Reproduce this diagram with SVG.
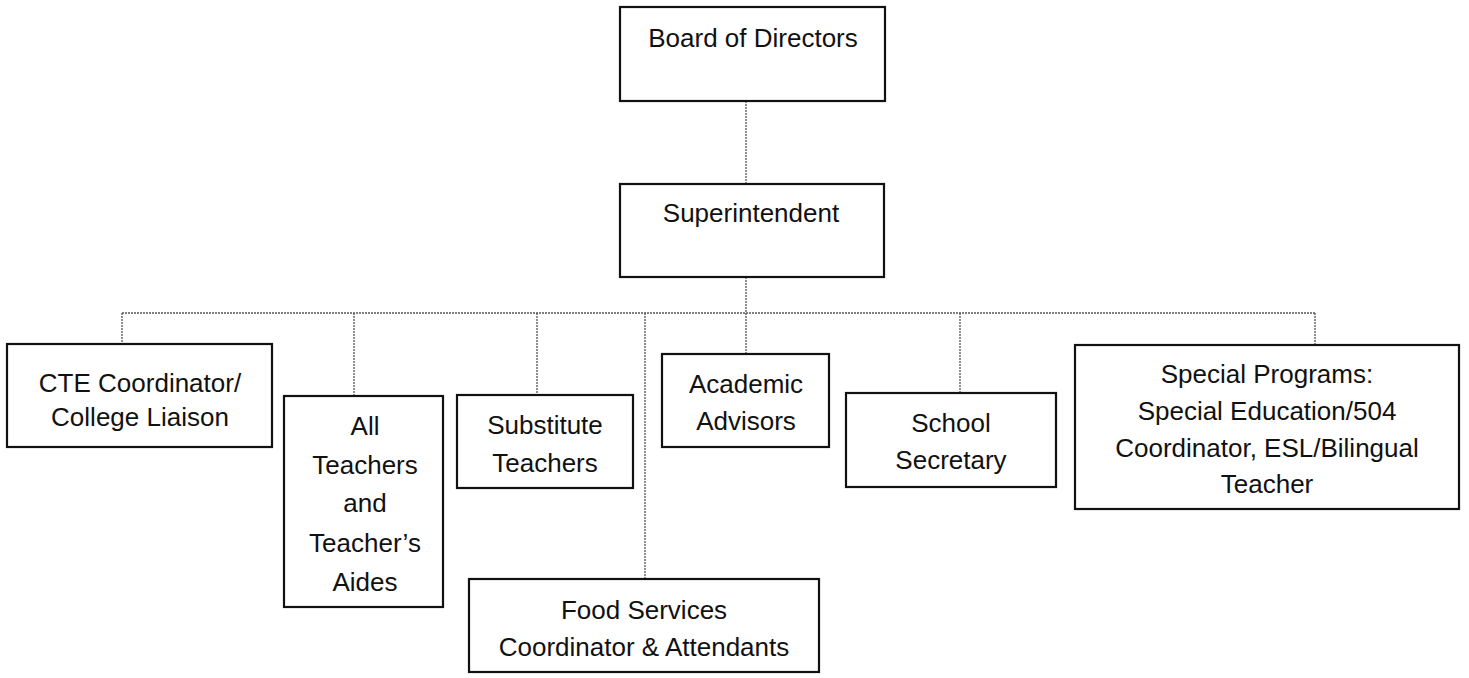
<svg xmlns="http://www.w3.org/2000/svg" width="1469" height="678" viewBox="0 0 1469 678">
<style>
.box{fill:#fff;stroke:#111;stroke-width:2.2}
.t{font-family:"Liberation Sans",Arial,sans-serif;font-size:26px;fill:#111;text-anchor:middle}
.c{fill:none;stroke:#555;stroke-width:1.3;stroke-dasharray:2 1}
</style>
<rect width="1469" height="678" fill="#fff"/>
<g id="connectors">
<line class="c" x1="746" y1="101" x2="746" y2="184"/>
<line class="c" x1="746" y1="277" x2="746" y2="313"/>
<line class="c" x1="122" y1="313" x2="1316" y2="313"/>
<line class="c" x1="122" y1="313" x2="122" y2="344"/>
<line class="c" x1="354" y1="313" x2="354" y2="396"/>
<line class="c" x1="537" y1="313" x2="537" y2="395"/>
<line class="c" x1="645" y1="313" x2="645" y2="579"/>
<line class="c" x1="746" y1="313" x2="746" y2="354"/>
<line class="c" x1="960" y1="313" x2="960" y2="393"/>
<line class="c" x1="1315" y1="313" x2="1315" y2="345"/>
</g>
<g id="board">
<rect class="box" x="620" y="7" width="265" height="94"/>
<text class="t" x="753" y="47">Board of Directors</text>
</g>
<g id="superintendent">
<rect class="box" x="620" y="184" width="264" height="93"/>
<text class="t" x="751" y="222">Superintendent</text>
</g>
<g id="cte">
<rect class="box" x="7" y="344" width="265" height="103"/>
<text class="t" x="140" y="392">CTE Coordinator/</text>
<text class="t" x="140" y="426">College Liaison</text>
</g>
<g id="teachers">
<rect class="box" x="284" y="396" width="159" height="211"/>
<text class="t" x="365" y="435">All</text>
<text class="t" x="365" y="474">Teachers</text>
<text class="t" x="365" y="512">and</text>
<text class="t" x="365" y="552">Teacher’s</text>
<text class="t" x="365" y="591">Aides</text>
</g>
<g id="substitute">
<rect class="box" x="457" y="395" width="176" height="93"/>
<text class="t" x="545" y="434">Substitute</text>
<text class="t" x="545" y="472">Teachers</text>
</g>
<g id="food">
<rect class="box" x="469" y="579" width="350" height="93"/>
<text class="t" x="644" y="619">Food Services</text>
<text class="t" x="644" y="656">Coordinator &amp; Attendants</text>
</g>
<g id="academic">
<rect class="box" x="662" y="354" width="167" height="93"/>
<text class="t" x="746" y="393">Academic</text>
<text class="t" x="746" y="430">Advisors</text>
</g>
<g id="secretary">
<rect class="box" x="846" y="393" width="210" height="94"/>
<text class="t" x="951" y="432">School</text>
<text class="t" x="951" y="469">Secretary</text>
</g>
<g id="special">
<rect class="box" x="1075" y="345" width="384" height="164"/>
<text class="t" x="1267" y="383">Special Programs:</text>
<text class="t" x="1267" y="420">Special Education/504</text>
<text class="t" x="1267" y="457">Coordinator, ESL/Bilingual</text>
<text class="t" x="1267" y="493">Teacher</text>
</g>
</svg>
